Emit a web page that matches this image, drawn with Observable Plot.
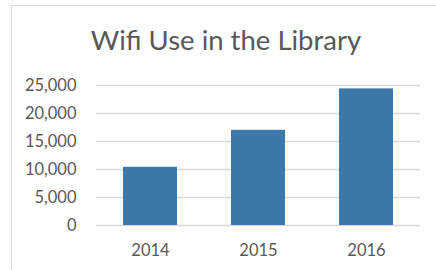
<!DOCTYPE html>
<html>
<head>
<meta charset="utf-8">
<script src="https://cdn.jsdelivr.net/npm/d3@7"></script>
<script src="https://cdn.jsdelivr.net/npm/@observablehq/plot@0.6"></script>
<style>
  html, body { margin: 0; padding: 0; background: #fff; }
  #wrap { position: relative; width: 436px; height: 270px; overflow: hidden; background: #fff; }
  #frame { position: absolute; left: 11px; top: 5px; width: 440px; height: 280px;
           border-top: 1.5px solid #d9d9d9; border-left: 1.5px solid #d9d9d9; }
  #title { position: absolute; left: 0; width: 452px; top: 22px; text-align: center;
           font-family: Lato, "Open Sans", sans-serif; font-size: 27.5px; color: #595959; line-height: 36px; }
  #chart { position: absolute; left: 0; top: 70px; }
</style>
</head>
<body>
<div id="wrap">
  <div id="frame"></div>
  <div id="title">Wifi Use in the Library</div>
  <div id="chart"></div>
</div>
<script>
const years = ["2014", "2015", "2016"];
const uses = [10400, 17000, 24400];
const yTicks = [0, 5000, 10000, 15000, 20000, 25000];

const data = years.map((y, i) => ({year: y, value: uses[i]}));

const chart = Plot.plot({
  width: 436,
  height: 200,
  marginTop: 15,
  marginBottom: 45,
  marginLeft: 96,
  marginRight: 16,
  style: {fontFamily: "Lato, 'Open Sans', sans-serif", fontSize: "16.5px", color: "#595959", background: "transparent"},
  x: {domain: years, paddingInner: 0.5, paddingOuter: 0.25, label: null, tickSize: 0, tickPadding: 19},
  y: {domain: [0, 25000], ticks: yTicks, label: null, tickSize: 0, tickPadding: 20,
      tickFormat: d3.format(",")},
  marks: [
    Plot.gridY(yTicks, {stroke: "#d9d9d9", strokeOpacity: 1, strokeWidth: 1.5}),
    Plot.barY(data, {x: "year", y: "value", fill: "#3d78ab"})
  ]
});
document.getElementById("chart").appendChild(chart);
</script>
</body>
</html>
